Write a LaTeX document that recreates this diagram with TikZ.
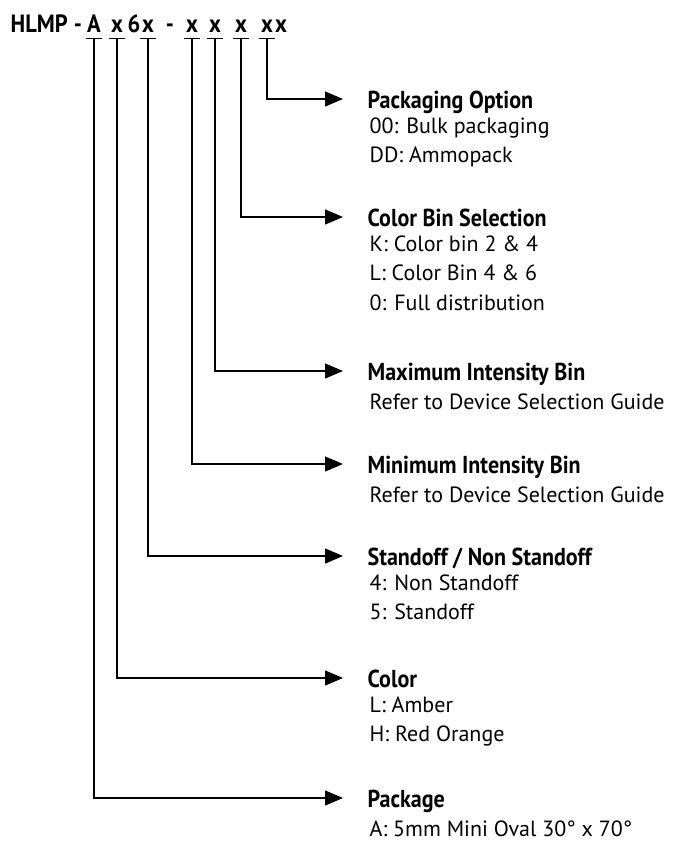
\documentclass[tikz,border=0pt]{standalone}
\usepackage{fontspec}
\setmainfont{PT Sans}
\newfontfamily\condfont[FakeStretch=0.9]{PT Sans}
\usetikzlibrary{arrows.meta,positioning}

\begin{document}
\begin{tikzpicture}[x=1pt, y=-1pt,
        code/.style={font=\condfont\bfseries\fontsize{25}{25}\selectfont, inner sep=0pt,
          text height=17pt, text depth=6pt, minimum width=15pt, anchor=base},
        title/.style={font=\condfont\bfseries\fontsize{24.5}{24.5}\selectfont, inner sep=0pt,
          text height=19pt, text depth=0pt, anchor=base west},
        body/.style={font=\fontsize{22}{29.5}\selectfont, align=left, inner sep=0pt,
          execute at begin node={\rule{0pt}{20pt}}, anchor=north west},
        feed/.style={-{Triangle[length=18pt,width=15pt]}, shorten >=24pt},
        every path/.style={line width=1.3pt}]

      \useasboundingbox (0,0) rectangle (687,841);

      % Part number
      \node[code, anchor=base west] (hlmp) at (10,32) {HLMP};
      \node[code, minimum width=0pt] (d1) at (78,32) {-};
      \node[code] (c1) at (94,32) {A};
      \node[code] (c2) at (117,32) {x};
      \node[code, minimum width=0pt] (six) at (134,32) {6};
      \node[code] (c3) at (148,32) {x};
      \node[code, minimum width=0pt] (d2) at (170,32) {-};
      \node[code] (c4) at (192,32) {x};
      \node[code] (c5) at (215,32) {x};
      \node[code] (c6) at (241,32) {x};
      \node[code] (c7) at (267,32) {x};
      \node[code, minimum width=0pt] (c8) at (281,32) {x};

      % Field titles
      \node[title] (T7) at (367,108.5) {Packaging Option};
      \node[title] (T6) at (367,226.5) {Color Bin Selection};
      \node[title] (T5) at (367,380.5) {Maximum Intensity Bin};
      \node[title] (T4) at (367,473.5) {Minimum Intensity Bin};
      \node[title] (T3) at (367,565.5) {Standoff / Non Standoff};
      \node[title] (T2) at (367,687.5) {Color};
      \node[title] (T1) at (367,807.5) {Package};

      % Field values
      \node[body] (B7) at ([xshift=2pt,yshift=-8.5pt]T7.base west) {00: Bulk packaging\\DD: Ammopack};
      \node[body] (B6) at ([xshift=2pt,yshift=-8.5pt]T6.base west) {K: Color bin 2 \& 4\\L: Color Bin 4 \& 6\\0: Full distribution};
      \node[body] (B5) at ([xshift=2pt,yshift=-8.5pt]T5.base west) {Refer to Device Selection Guide};
      \node[body] (B4) at ([xshift=2pt,yshift=-8.5pt]T4.base west) {Refer to Device Selection Guide};
      \node[body] (B3) at ([xshift=2pt,yshift=-8.5pt]T3.base west) {4: Non Standoff\\5: Standoff};
      \node[body] (B2) at ([xshift=2pt,yshift=-8.5pt]T2.base west) {L: Amber\\H: Red Orange};
      \node[body] (B1) at ([xshift=2pt,yshift=-8.5pt]T1.base west) {A: 5mm Mini Oval 30° x 70°};

      % Underlines and leaders
      \foreach \i in {1,...,7}
        \draw (c\i.south west) -- (c\i.south east);
      \foreach \i in {1,...,7}
        \draw[feed] (c\i.south) |- (T\i.west);
    \end{tikzpicture}
\end{document}
